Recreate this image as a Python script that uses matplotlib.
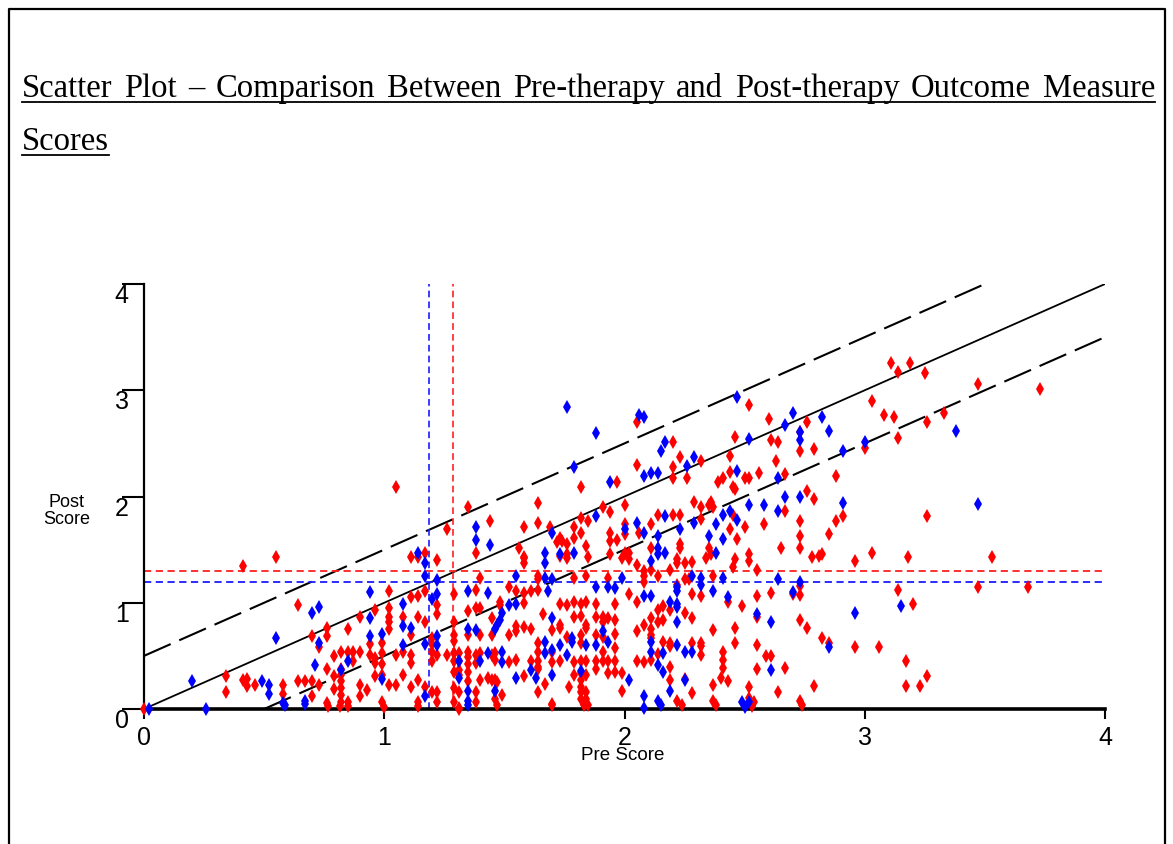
import matplotlib
matplotlib.use('Agg')
import matplotlib.pyplot as plt
from matplotlib.lines import Line2D

# (pre score, post score) pairs
red_scores = [
    (1.82, 2.09), (1.35, 1.90), (1.64, 1.94), (1.44, 1.77), (1.26, 1.69), (1.58, 1.71), (1.64, 1.75),
    (1.69, 1.71), (1.73, 1.61), (1.74, 1.58), (1.72, 1.57), (1.79, 1.71), (1.79, 1.61), (1.82, 1.80),
    (1.82, 1.66), (1.85, 1.77), (1.76, 1.55), (1.84, 1.53), (1.38, 1.47), (1.56, 1.52), (1.11, 1.43),
    (1.14, 1.43), (1.17, 1.47), (1.58, 1.43), (1.76, 1.46), (1.85, 1.43), (1.05, 2.09), (0.55, 1.43),
    (2.52, 2.86), (2.60, 2.73), (2.05, 2.70), (2.73, 2.61), (2.46, 2.56), (2.61, 2.53), (2.64, 2.51),
    (2.20, 2.51), (2.73, 2.43), (2.23, 2.37), (2.44, 2.38), (2.32, 2.33), (2.05, 2.30), (2.20, 2.28),
    (2.63, 2.33), (2.56, 2.22), (2.67, 2.21), (2.44, 2.23), (2.41, 2.17), (2.39, 2.14), (2.50, 2.17),
    (2.52, 2.17), (2.26, 2.17), (2.20, 2.17), (1.97, 2.14), (2.46, 2.07), (2.45, 2.09), (1.91, 1.90),
    (1.94, 1.85), (2.00, 1.92), (2.29, 1.95), (2.32, 1.90), (2.35, 1.92), (2.36, 1.95), (2.37, 1.90),
    (2.45, 1.83), (2.67, 1.86), (2.14, 1.83), (2.20, 1.83), (2.23, 1.83), (2.11, 1.74), (1.94, 1.66),
    (2.00, 1.74), (2.44, 1.69), (2.50, 1.71), (2.58, 1.74), (2.32, 1.79), (2.06, 1.66), (2.00, 1.65),
    (1.94, 1.58), (1.97, 1.59), (2.11, 1.52), (2.23, 1.55), (2.23, 1.52), (2.35, 1.52), (2.36, 1.46),
    (2.47, 1.60), (2.65, 1.52), (2.73, 1.63), (1.94, 1.46), (2.00, 1.47), (2.02, 1.47), (2.52, 1.46),
    (3.47, 3.06), (3.73, 3.01), (3.03, 2.90), (3.08, 2.77), (3.12, 2.75), (3.33, 2.79), (3.26, 2.70),
    (2.76, 2.70), (3.14, 2.55), (2.79, 2.45), (3.00, 2.46), (2.88, 2.19), (2.76, 2.05), (2.79, 1.98),
    (2.91, 1.82), (2.88, 1.77), (2.73, 1.77), (3.26, 1.82), (2.85, 1.65), (2.73, 1.52), (2.78, 1.43),
    (2.81, 1.44), (2.82, 1.46), (3.03, 1.47), (3.18, 1.43), (3.53, 1.43), (3.11, 3.26), (3.14, 3.17),
    (3.19, 3.26), (3.25, 3.16),
    (2.96, 1.39), (2.73, 1.16), (3.47, 1.15), (3.68, 1.15), (2.61, 1.09), (2.70, 1.08), (2.73, 1.07),
    (3.14, 1.12), (3.20, 0.99), (2.73, 0.84), (2.76, 0.76), (2.82, 0.67), (2.85, 0.62), (2.96, 0.58),
    (3.06, 0.58), (2.59, 0.50), (2.61, 0.50), (2.67, 0.39), (3.17, 0.45), (3.26, 0.31), (3.17, 0.22),
    (3.23, 0.22), (2.79, 0.22), (2.64, 0.16), (2.73, 0.08),
    (0.41, 1.35), (0.64, 0.98), (0.70, 0.69), (0.76, 0.76), (0.76, 0.69), (0.73, 0.58), (0.79, 0.50),
    (0.76, 0.38), (0.79, 0.31), (0.34, 0.31), (0.34, 0.16), (0.41, 0.27), (0.43, 0.28), (0.43, 0.22),
    (0.46, 0.23), (0.58, 0.23), (0.58, 0.14), (0.64, 0.26), (0.67, 0.26), (0.70, 0.26), (0.73, 0.23),
    (0.70, 0.12), (0.76, 0.06), (0.79, 0.19), (0.00, 0.00),
    (1.02, 1.11), (1.11, 1.05), (1.14, 1.06), (1.17, 1.11), (1.29, 1.08), (1.38, 1.12), (1.02, 0.95),
    (0.96, 0.93), (1.22, 0.98), (0.90, 0.87), (1.02, 0.87), (1.08, 0.87), (1.02, 0.82), (1.14, 0.87),
    (1.22, 0.89), (1.35, 0.92), (1.38, 0.95), (1.29, 0.82), (1.17, 0.82), (0.85, 0.75), (1.02, 0.75),
    (1.11, 0.70), (1.29, 0.70), (1.35, 0.70), (0.99, 0.62), (0.94, 0.61), (1.20, 0.67), (1.20, 0.61),
    (1.29, 0.64), (0.82, 0.54), (0.85, 0.54), (0.87, 0.54), (0.90, 0.54), (0.94, 0.51), (0.96, 0.48),
    (0.99, 0.53), (1.05, 0.51), (1.08, 0.54), (1.11, 0.51), (1.20, 0.54), (1.22, 0.51), (1.26, 0.51),
    (1.29, 0.53), (1.31, 0.53), (1.35, 0.54), (1.35, 0.49), (1.38, 0.51), (0.87, 0.45), (0.82, 0.38),
    (0.96, 0.43), (0.99, 0.42), (1.11, 0.43), (1.20, 0.45), (1.29, 0.45), (1.31, 0.45), (1.35, 0.42),
    (1.38, 0.43), (0.82, 0.32), (0.82, 0.26), (0.96, 0.31), (0.99, 0.32), (1.08, 0.32), (1.29, 0.35),
    (1.31, 0.37), (1.31, 0.32), (1.35, 0.35), (1.14, 0.27), (1.35, 0.26), (0.82, 0.20), (0.90, 0.23),
    (0.93, 0.18), (1.02, 0.23), (1.05, 0.23), (1.11, 0.21), (1.17, 0.21), (1.20, 0.16), (1.22, 0.16),
    (1.29, 0.20), (1.31, 0.16), (1.38, 0.16), (0.82, 0.13), (0.90, 0.12), (0.85, 0.07), (0.82, 0.07),
    (0.99, 0.07), (1.14, 0.07), (1.22, 0.07), (1.29, 0.07), (1.38, 0.07), (1.31, 0.01), (1.22, 1.40),
    (1.58, 1.42), (1.58, 1.37), (1.73, 1.44), (1.76, 1.42), (1.40, 1.23), (1.64, 1.25), (1.64, 1.22),
    (1.79, 1.23), (1.84, 1.25), (1.93, 1.23), (1.52, 1.15), (1.55, 1.11), (1.58, 1.09), (1.61, 1.11),
    (1.64, 1.12), (1.40, 0.95), (1.48, 1.01), (1.48, 0.98), (1.58, 1.00), (1.73, 0.99), (1.76, 0.98),
    (1.79, 1.01), (1.82, 0.99), (1.84, 1.01), (1.88, 0.99), (1.96, 0.99), (1.45, 0.86), (1.66, 0.89),
    (1.79, 0.87), (1.82, 0.88), (1.88, 0.87), (1.91, 0.87), (1.91, 0.82), (1.93, 0.86), (1.96, 0.84),
    (1.40, 0.70), (1.45, 0.70), (1.52, 0.70), (1.55, 0.78), (1.55, 0.73), (1.58, 0.77), (1.61, 0.75),
    (1.70, 0.74), (1.73, 0.79), (1.73, 0.76), (1.76, 0.68), (1.82, 0.70), (1.84, 0.79), (1.84, 0.76),
    (1.88, 0.70), (1.91, 0.68), (1.96, 0.71), (1.64, 0.62), (1.64, 0.54), (1.70, 0.54), (1.82, 0.62),
    (1.91, 0.54), (1.96, 0.57), (1.40, 0.53), (1.45, 0.51), (1.46, 0.53), (1.46, 0.46), (1.52, 0.44),
    (1.55, 0.46), (1.61, 0.45), (1.64, 0.45), (1.64, 0.40), (1.70, 0.44), (1.73, 0.45), (1.79, 0.44),
    (1.82, 0.45), (1.84, 0.45), (1.88, 0.45), (1.91, 0.45), (1.93, 0.45), (1.96, 0.45), (1.40, 0.27),
    (1.43, 0.29), (1.45, 0.27), (1.46, 0.27), (1.47, 0.25), (1.58, 0.31), (1.64, 0.38), (1.67, 0.24),
    (1.79, 0.32), (1.82, 0.34), (1.82, 0.27), (1.84, 0.32), (1.88, 0.38), (1.93, 0.34), (1.96, 0.35),
    (1.46, 0.09), (1.49, 0.13), (1.64, 0.16), (1.77, 0.21), (1.82, 0.21), (1.82, 0.16), (1.82, 0.09),
    (1.84, 0.16), (1.84, 0.09), (1.70, 0.05),
    (1.99, 1.42), (2.02, 1.41), (2.05, 1.36), (2.22, 1.41), (2.22, 1.37), (2.25, 1.37), (2.28, 1.38),
    (2.34, 1.42), (2.46, 1.41), (2.52, 1.39), (2.08, 1.30), (2.08, 1.25), (2.08, 1.20), (2.11, 1.31),
    (2.14, 1.25), (2.19, 1.31), (2.25, 1.22), (2.27, 1.22), (2.37, 1.25), (2.45, 1.34), (2.55, 1.31),
    (2.02, 1.08), (2.05, 1.01), (2.28, 1.08), (2.32, 1.06), (2.43, 1.01), (2.55, 1.06), (2.22, 1.17),
    (2.16, 0.97), (2.14, 0.93), (2.19, 0.93), (2.25, 0.90), (2.28, 0.86), (2.11, 0.86), (2.14, 0.82),
    (2.16, 0.84), (2.49, 0.97), (2.55, 0.87), (2.05, 0.73), (2.08, 0.79), (2.11, 0.75), (2.11, 0.70),
    (2.11, 0.67), (2.16, 0.63), (2.19, 0.62), (2.19, 0.59), (2.28, 0.62), (2.32, 0.62), (2.32, 0.59),
    (2.37, 0.74), (2.46, 0.76), (2.46, 0.62), (2.55, 0.60), (2.14, 0.52), (2.32, 0.51), (2.05, 0.45),
    (2.08, 0.44), (2.11, 0.46), (2.19, 0.40), (2.41, 0.54), (2.41, 0.46), (2.41, 0.39), (2.40, 0.29),
    (2.43, 0.26), (2.55, 0.38), (1.99, 0.34), (2.19, 0.27), (2.25, 0.28), (2.37, 0.23), (2.52, 0.21),
    (1.99, 0.17), (2.28, 0.15), (2.22, 0.08), (2.37, 0.08), (2.52, 0.10), (2.54, 0.07),
    (1.00, 0.02), (1.14, 0.03), (1.31, 0.00), (1.47, 0.04), (1.70, 0.04), (1.83, 0.04), (1.85, 0.04),
    (2.24, 0.04), (2.38, 0.04), (2.53, 0.03), (2.74, 0.04), (0.85, 0.03), (0.815, 0.03), (0.765, 0.03),
]

blue_scores = [
    (1.76, 2.84), (1.88, 2.60), (1.79, 2.28), (1.38, 1.71), (1.70, 1.66), (1.88, 1.82), (1.38, 1.59),
    (1.44, 1.54), (1.14, 1.47), (1.67, 1.47), (1.79, 1.47), (1.73, 1.46),
    (2.47, 2.94), (2.70, 2.79), (2.06, 2.77), (2.08, 2.75), (2.67, 2.67), (2.52, 2.54), (2.17, 2.51),
    (2.15, 2.43), (2.29, 2.37), (2.26, 2.29), (2.47, 2.24), (2.11, 2.22), (2.14, 2.22), (2.08, 2.19),
    (2.64, 2.17), (1.94, 2.14), (2.67, 2.00), (2.52, 1.92), (2.58, 1.92), (2.44, 1.86), (2.41, 1.83),
    (2.64, 1.86), (2.17, 1.82), (2.00, 1.69), (2.05, 1.75), (2.08, 1.66), (2.23, 1.69), (2.29, 1.75),
    (2.38, 1.74), (2.47, 1.78), (2.14, 1.63), (2.14, 1.52), (2.17, 1.47), (2.14, 1.46), (2.35, 1.63),
    (2.38, 1.47), (2.41, 1.60),
    (2.82, 2.75), (2.73, 2.61), (2.73, 2.53), (2.85, 2.62), (3.38, 2.62), (2.91, 2.43), (3.00, 2.51),
    (2.73, 2.00), (2.91, 1.94), (3.47, 1.93),
    (2.64, 1.22), (2.73, 1.20), (2.70, 1.10), (3.15, 0.97), (2.96, 0.90), (2.61, 0.82), (2.85, 0.58),
    (2.61, 0.37),
    (0.70, 0.90), (0.73, 0.96), (0.55, 0.67), (0.73, 0.62), (0.71, 0.41), (0.20, 0.26), (0.49, 0.26),
    (0.52, 0.23), (0.52, 0.14), (0.58, 0.06), (0.67, 0.08), (0.02, 0.00), (0.26, 0.00),
    (1.17, 1.37), (1.17, 1.25), (1.22, 1.21), (0.94, 1.10), (1.20, 1.04), (1.22, 1.08), (1.35, 1.11),
    (1.08, 0.99), (0.94, 0.86), (0.99, 0.71), (1.08, 0.78), (1.11, 0.76), (1.35, 0.75), (1.38, 0.74),
    (0.94, 0.69), (1.08, 0.60), (1.17, 0.61), (1.22, 0.69), (1.22, 0.60), (0.85, 0.45), (0.82, 0.37),
    (1.31, 0.45), (0.99, 0.28), (1.31, 0.29), (1.35, 0.17), (1.17, 0.12), (1.35, 0.08),
    (1.67, 1.37), (1.55, 1.25), (1.67, 1.23), (1.70, 1.22), (1.43, 1.09), (1.68, 1.11), (1.88, 1.15),
    (1.93, 1.15), (1.96, 1.14), (1.52, 0.98), (1.55, 0.99), (1.49, 0.90), (1.48, 0.84), (1.47, 0.79),
    (1.46, 0.75), (1.70, 0.86), (1.78, 0.67), (1.78, 0.63), (1.91, 0.73), (1.67, 0.63), (1.67, 0.53),
    (1.70, 0.56), (1.73, 0.60), (1.76, 0.51), (1.84, 0.60), (1.88, 0.60), (1.93, 0.63), (1.43, 0.53),
    (1.40, 0.45), (1.49, 0.54), (1.49, 0.44), (1.55, 0.29), (1.61, 0.37), (1.63, 0.29), (1.70, 0.32),
    (1.82, 0.36), (1.46, 0.17),
    (2.11, 1.39), (1.99, 1.23), (2.28, 1.25), (2.32, 1.23), (2.32, 1.17), (2.41, 1.23), (2.08, 1.06),
    (2.11, 1.06), (2.22, 1.15), (2.22, 1.11), (2.37, 1.11), (2.43, 1.05), (2.19, 1.01), (2.22, 0.99),
    (2.22, 0.96), (2.22, 0.82), (2.55, 0.89), (2.11, 0.63), (2.22, 0.60), (2.11, 0.54), (2.16, 0.53),
    (2.25, 0.54), (2.28, 0.54), (2.14, 0.41), (2.16, 0.35), (2.02, 0.27), (2.25, 0.27), (2.19, 0.17),
    (2.08, 0.12), (2.08, 0.01), (2.14, 0.08), (2.49, 0.07), (2.52, 0.07),
    (1.35, 0.04), (2.15, 0.04), (2.50, 0.02), (0.67, 0.05), (0.585, 0.04),
]

red_pre_mean, red_post_mean = 1.285, 1.30
blue_pre_mean, blue_post_mean = 1.185, 1.195
band = 0.5
ticks = [0, 1, 2, 3, 4]
tick_labels = ['0', '1', '2', '3', '4']
title_line1 = 'Scatter Plot – Comparison Between Pre-therapy and Post-therapy Outcome Measure'
title_line2 = 'Scores'

W, H = 1173, 844
fig = plt.figure(figsize=(W / 100, H / 100), dpi=100)
sans = ['Liberation Sans', 'DejaVu Sans']
serif = ['Liberation Serif', 'DejaVu Serif']

def fx(px):
    return px / W

def fy(py):
    return 1 - py / H

# page border (open at the bottom)
fig.add_artist(Line2D([fx(9), fx(9), fx(1165), fx(1165)], [fy(860), fy(9), fy(9), fy(860)],
                      color='black', lw=1.6))

# justified, underlined title
words = title_line1.split(' ')
texts = [fig.text(0, fy(97), w, fontsize=23.5, family=serif, va='baseline') for w in words]
fig.canvas.draw()
rend = fig.canvas.get_renderer()
widths = [t.get_window_extent(rend).width for t in texts]
gap = (1155 - 22 - sum(widths)) / (len(words) - 1)
xpos = 22
for t, w in zip(texts, widths):
    t.set_x(fx(xpos))
    xpos += w + gap
fig.add_artist(Line2D([fx(22), fx(1155)], [fy(102), fy(102)], color='black', lw=1.3))
t2 = fig.text(fx(22), fy(150), title_line2, fontsize=23.5, family=serif, va='baseline')
w2 = t2.get_window_extent(rend).width
fig.add_artist(Line2D([fx(22), fx(22 + w2)], [fy(155), fy(155)], color='black', lw=1.3))

ax = fig.add_axes([fx(144), fy(709), (1105 - 144) / W, (709 - 284) / H])
ax.set_xlim(0, 4)
ax.set_ylim(0, 4)

# reference lines
diag = [0, 4]
ax.plot(diag, diag, color='black', lw=1.3, zorder=2)
ax.plot([0, 4 - band], [band, 4], color='black', lw=1.5, dashes=(14, 4.5), zorder=2)
ax.plot([band, 4], [0, 4 - band], color='black', lw=1.5, dashes=(14, 4.5), zorder=2)

ax.axvline(blue_pre_mean, color='#1a1aff', lw=1.2, dashes=(4, 2.5), zorder=2)
ax.axvline(red_pre_mean, color='#ff2020', lw=1.2, dashes=(4, 2.5), zorder=2)
ax.axhline(red_post_mean, color='#ff2020', lw=1.3, dashes=(4, 2.5), zorder=2)
ax.axhline(blue_post_mean, color='#1a1aff', lw=1.3, dashes=(4, 2.5), zorder=2)

rx, ry = zip(*red_scores)
bx, by = zip(*blue_scores)
ax.plot(rx, ry, 'd', color='#ff0000', ms=7, mew=0, clip_on=False, zorder=3)
ax.plot(bx, by, 'd', color='#0000ff', ms=7, mew=0, clip_on=False, zorder=3)

for s in ['top', 'right']:
    ax.spines[s].set_visible(False)
ax.spines['left'].set_linewidth(1.6)
ax.spines['bottom'].set_linewidth(2.6)

ax.set_xticks(ticks)
ax.set_xticklabels(tick_labels, family=sans, fontsize=18)
ax.set_yticks(ticks)
ax.set_yticklabels(tick_labels, family=sans, fontsize=18)
ax.tick_params(axis='y', direction='out', length=16, width=1.5, pad=-5)
ax.tick_params(axis='x', direction='out', length=7, width=1.5, pad=5)
for lab in ax.get_yticklabels():
    lab.set_va('top')

fig.text(fx(67), fy(511), 'Post\nScore', family=sans, fontsize=13, ha='center', va='center',
         linespacing=0.95)
fig.text(fx(623), fy(756), 'Pre Score', family=sans, fontsize=13.5, ha='center', va='center')

fig.savefig('out.png', dpi=100)
